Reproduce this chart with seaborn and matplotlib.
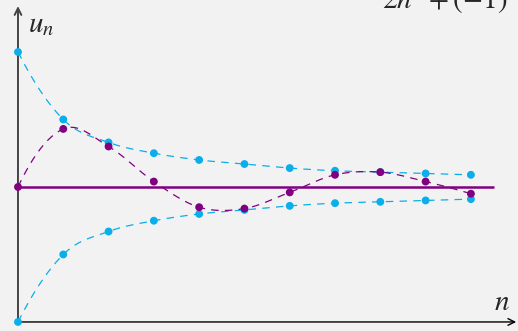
import numpy as np
import pandas as pd
import matplotlib.pyplot as plt
import seaborn as sns

sns.set_theme(style="white")
plt.rcParams['mathtext.fontset'] = 'stix'

# valeurs
n = np.arange(11)
u_sup = [2.0, 1.50, 1.33, 1.25, 1.20, 1.17, 1.14, 1.12, 1.11, 1.10, 1.09]
u_inf = [0.0, 0.50, 0.67, 0.75, 0.80, 0.83, 0.86, 0.88, 0.89, 0.90, 0.91]
u_n = [1.0, 1.43, 1.30, 1.04, 0.85, 0.84, 0.96, 1.09, 1.11, 1.04, 0.95]
limite = 1.0

cyan = '#0aaeea'
violet = '#800080'


def lisse(x, y, k=24):
    # courbe de Catmull-Rom passant par les points
    p = np.column_stack([x, y]).astype(float)
    debut = 3 * p[0] - 3 * p[1] + p[2]
    fin = 3 * p[-1] - 3 * p[-2] + p[-3]
    p = np.vstack([debut, p, fin])
    out = []
    t = np.linspace(0, 1, k, endpoint=False)[:, None]
    for i in range(1, len(p) - 2):
        p0, p1, p2, p3 = p[i - 1:i + 3]
        out.append(0.5 * (2 * p1 + (-p0 + p2) * t
                          + (2 * p0 - 5 * p1 + 4 * p2 - p3) * t ** 2
                          + (-p0 + 3 * p1 - 3 * p2 + p3) * t ** 3))
    out.append(p[-2][None])
    c = np.vstack(out)
    return pd.DataFrame({'n': c[:, 0], 'u': c[:, 1]})


fig = plt.figure(figsize=(5.18, 3.31), dpi=100, facecolor='#f2f2f2')
ax = fig.add_axes([0, 0, 1, 1], facecolor='#f2f2f2')
ax.set_xlim(-0.397, 11.04)
ax.set_ylim(-0.067, 2.385)
ax.axis('off')

dash = (0, (6, 5))
for serie, coul in [(u_sup, cyan), (u_inf, cyan), (u_n, violet)]:
    sns.lineplot(data=lisse(n, serie), x='n', y='u', sort=False, ax=ax,
                 color=coul, lw=0.9, linestyle=dash, zorder=2)

ax.hlines(limite, 0, 10.5, color=violet, lw=1.8, zorder=3)

df = pd.DataFrame({'n': np.concatenate([n, n]), 'u': u_sup + u_inf})
sns.scatterplot(data=df, x='n', y='u', color=cyan, s=32, edgecolor='none', ax=ax, zorder=4)
sns.scatterplot(x=n, y=u_n, color=violet, s=32, edgecolor='none', ax=ax, zorder=5)

# axes
ax.annotate('', xy=(11.0, 0), xytext=(0, 0),
            arrowprops=dict(arrowstyle='->', color='black', lw=1.0, shrinkA=0, shrinkB=0), zorder=1)
ax.annotate('', xy=(0, 2.34), xytext=(0, -0.01),
            arrowprops=dict(arrowstyle='->', color='#444444', lw=1.4, shrinkA=0, shrinkB=0), zorder=1)

ax.text(0.22, 2.21, '$u_n$', fontsize=21, ha='left', va='center')
ax.text(10.5, 0.045, '$n$', fontsize=21, ha='left', va='bottom')
fig.text(382 / 518, 1 - 9 / 331, '$2n^2+(-1)^n$', fontsize=21, ha='left', va='baseline')

fig.savefig('out.png', dpi=100, facecolor=fig.get_facecolor())
